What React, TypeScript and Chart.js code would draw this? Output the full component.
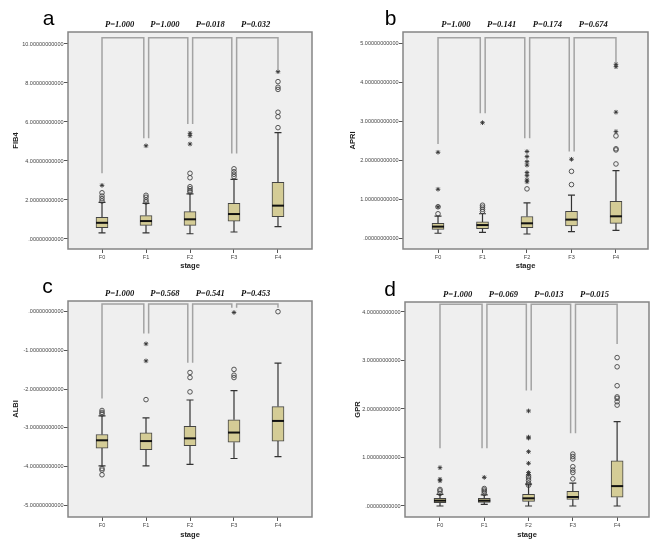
import React, { useEffect, useRef } from 'react';
import { Chart, registerables } from 'chart.js';

Chart.register(...registerables);

// ---------- shared ----------
const stages = ['F0', 'F1', 'F2', 'F3', 'F4'];

// ---------- a: FIB4 ----------
const fib4Low = [0.31, 0.31, 0.27, 0.36, 0.63];
const fib4Q1 = [0.58, 0.7, 0.7, 0.92, 1.14];
const fib4Median = [0.83, 0.92, 1.01, 1.28, 1.71];
const fib4Q3 = [1.11, 1.2, 1.4, 1.83, 2.91];
const fib4High = [1.88, 1.83, 2.31, 3.06, 5.45];
const fib4Circles = [[1.95, 2.07, 2.2, 2.37], [1.9, 2.0, 2.14, 2.24], [2.41, 2.48, 2.58, 2.68, 3.14, 3.37], [3.2, 3.32, 3.45, 3.6], [5.71, 6.27, 6.5, 7.67, 7.78, 8.07]];
const fib4Stars = [[2.75], [4.78], [4.87, 5.3, 5.42], [], [8.58]];
const fib4BracketTop = 10.32;
const fib4BracketLegs = [[3.37, 5.16], [5.16, 5.9], [5.9, 4.39], [4.39, 8.63]];
const fib4P = ['P=1.000', 'P=1.000', 'P=0.018', 'P=0.032'];
const fib4Ticks = [0, 2, 4, 6, 8, 10];
const fib4TickLabels = ['.00000000000', '2.00000000000', '4.00000000000', '6.00000000000', '8.00000000000', '10.00000000000'];

// ---------- b: APRI ----------
const apriLow = [0.13, 0.15, 0.11, 0.17, 0.205];
const apriQ1 = [0.23, 0.25, 0.27, 0.32, 0.385];
const apriMedian = [0.3, 0.34, 0.385, 0.48, 0.565];
const apriQ3 = [0.385, 0.42, 0.56, 0.69, 0.95];
const apriHigh = [0.57, 0.63, 0.91, 1.11, 1.74];
const apriCircles = [[0.63, 0.81], [0.69, 0.745, 0.8, 0.85], [1.27], [1.38, 1.72], [1.91, 2.27, 2.3, 2.63]];
const apriStars = [[0.81, 1.26, 2.21], [2.97], [1.45, 1.5, 1.61, 1.69, 1.88, 1.97, 2.1, 2.23], [2.03], [2.74, 3.24, 4.41, 4.47]];
const apriBracketTop = 5.15;
const apriBracketLegs = [[2.42, 3.21], [3.21, 2.57], [2.57, 2.23], [2.23, 4.5]];
const apriP = ['P=1.000', 'P=0.141', 'P=0.174', 'P=0.674'];
const apriTicks = [0, 1, 2, 3, 4, 5];
const apriTickLabels = ['.00000000000', '1.00000000000', '2.00000000000', '3.00000000000', '4.00000000000', '5.00000000000'];

// ---------- c: ALBI ----------
const albiLow = [-3.98, -3.98, -3.94, -3.79, -3.74];
const albiQ1 = [-3.52, -3.56, -3.46, -3.37, -3.34];
const albiMedian = [-3.32, -3.34, -3.27, -3.12, -2.82];
const albiQ3 = [-3.17, -3.13, -2.96, -2.79, -2.45];
const albiHigh = [-2.69, -2.74, -2.28, -2.04, -1.33];
const albiCircles = [[-2.55, -2.6, -2.64, -4.05, -4.09, -4.21], [-2.27], [-1.57, -1.7, -2.07], [-1.49, -1.64, -1.7], [0.0]];
const albiStars = [[], [-0.83, -1.27], [], [-0.02], []];
const albiBracketTop = 0.2;
const albiBracketLegs = [[-2.24, -0.56], [-0.56, -1.32], [-1.32, 0.1], [0.1, 0.1]];
const albiP = ['P=1.000', 'P=0.568', 'P=0.541', 'P=0.453'];
const albiTicks = [-5, -4, -3, -2, -1, 0];
const albiTickLabels = ['-5.00000000000', '-4.00000000000', '-3.00000000000', '-2.00000000000', '-1.00000000000', '.00000000000'];

// ---------- d: GPR ----------
const gprLow = [0.0, 0.034, 0.0, 0.0, 0.0];
const gprQ1 = [0.069, 0.075, 0.096, 0.137, 0.18];
const gprMedian = [0.11, 0.11, 0.158, 0.186, 0.41];
const gprQ3 = [0.158, 0.158, 0.24, 0.3, 0.93];
const gprHigh = [0.24, 0.23, 0.45, 0.47, 1.74];
const gprCircles = [[0.26, 0.31, 0.34], [0.26, 0.3, 0.33, 0.36], [0.43, 0.47, 0.53, 0.58, 0.62], [0.56, 0.69, 0.74, 0.81, 0.97, 1.02, 1.07], [2.08, 2.15, 2.22, 2.25, 2.48, 2.87, 3.06]];
const gprStars = [[0.52, 0.55, 0.79], [0.59], [0.65, 0.69, 0.88, 1.12, 1.4, 1.42, 1.96], [], []];
const gprBracketTop = 4.16;
const gprBracketLegs = [[1.19, 1.19], [1.19, 2.38], [2.38, 1.5], [1.5, 3.34]];
const gprP = ['P=1.000', 'P=0.069', 'P=0.013', 'P=0.015'];
const gprTicks = [0, 1, 2, 3, 4];
const gprTickLabels = ['.00000000000', '1.00000000000', '2.00000000000', '3.00000000000', '4.00000000000'];

type PanelDef = {
  letter: string; yTitle: string;
  low: number[]; q1: number[]; median: number[]; q3: number[]; high: number[];
  circles: number[][]; stars: number[][];
  bracketTop: number; bracketLegs: number[][]; pLabels: string[];
  ticks: number[]; tickLabels: string[];
  yMin: number; yMax: number; xMin: number; xMax: number;
  left: number; top: number; w: number; h: number;
  padTop: number; padRight: number; yWidth: number; xHeight: number;
  yTitleX: number; xTitleBottom: number; letterX: number; letterY: number;
};

const panels: PanelDef[] = [
  {
    letter: 'a', yTitle: 'FIB4', low: fib4Low, q1: fib4Q1, median: fib4Median, q3: fib4Q3, high: fib4High,
    circles: fib4Circles, stars: fib4Stars, bracketTop: fib4BracketTop, bracketLegs: fib4BracketLegs, pLabels: fib4P,
    ticks: fib4Ticks, tickLabels: fib4TickLabels, yMin: -0.513, yMax: 10.615, xMin: -0.773, xMax: 4.773,
    left: 0, top: 0, w: 334, h: 272, padTop: 32, padRight: 22, yWidth: 68, xHeight: 23,
    yTitleX: 15.5, xTitleBottom: 1.5, letterX: 48.5, letterY: 25,
  },
  {
    letter: 'b', yTitle: 'APRI', low: apriLow, q1: apriQ1, median: apriMedian, q3: apriQ3, high: apriHigh,
    circles: apriCircles, stars: apriStars, bracketTop: apriBracketTop, bracketLegs: apriBracketLegs, pLabels: apriP,
    ticks: apriTicks, tickLabels: apriTickLabels, yMin: -0.275, yMax: 5.3, xMin: -0.787, xMax: 4.72,
    left: 335, top: 0, w: 334, h: 272, padTop: 32, padRight: 21, yWidth: 68, xHeight: 23,
    yTitleX: 18, xTitleBottom: 1.5, letterX: 55.5, letterY: 25,
  },
  {
    letter: 'c', yTitle: 'ALBI', low: albiLow, q1: albiQ1, median: albiMedian, q3: albiQ3, high: albiHigh,
    circles: albiCircles, stars: albiStars, bracketTop: albiBracketTop, bracketLegs: albiBracketLegs, pLabels: albiP,
    ticks: albiTicks, tickLabels: albiTickLabels, yMin: -5.3, yMax: 0.276, xMin: -0.773, xMax: 4.773,
    left: 0, top: 270, w: 334, h: 275, padTop: 31, padRight: 22, yWidth: 68, xHeight: 28,
    yTitleX: 16.3, xTitleBottom: 5.5, letterX: 47.5, letterY: 23,
  },
  {
    letter: 'd', yTitle: 'GPR', low: gprLow, q1: gprQ1, median: gprMedian, q3: gprQ3, high: gprHigh,
    circles: gprCircles, stars: gprStars, bracketTop: gprBracketTop, bracketLegs: gprBracketLegs, pLabels: gprP,
    ticks: gprTicks, tickLabels: gprTickLabels, yMin: -0.227, yMax: 4.206, xMin: -0.79, xMax: 4.72,
    left: 335, top: 270, w: 334, h: 275, padTop: 32, padRight: 20, yWidth: 70, xHeight: 28,
    yTitleX: 23, xTitleBottom: 5.5, letterX: 55, letterY: 25.5,
  },
];

const SANS = '"Liberation Sans", Arial, sans-serif';
const SERIF = '"Liberation Serif", "Times New Roman", serif';

function makePlugin(p: PanelDef) {
  return {
    id: 'boxExtras',
    beforeDraw(chart: any) {
      const { ctx, chartArea: a } = chart;
      ctx.save();
      ctx.fillStyle = '#efefef';
      ctx.fillRect(a.left, a.top, a.right - a.left, a.bottom - a.top);
      ctx.restore();
    },
    afterDatasetsDraw(chart: any) {
      const { ctx } = chart;
      const xs = chart.scales.x;
      const ys = chart.scales.y;
      ctx.save();
      // whiskers
      ctx.strokeStyle = '#333';
      ctx.lineWidth = 1.2;
      for (let i = 0; i < stages.length; i++) {
        const x = xs.getPixelForValue(i);
        const yl = ys.getPixelForValue(p.low[i]);
        const yq1 = ys.getPixelForValue(p.q1[i]);
        const yq3 = ys.getPixelForValue(p.q3[i]);
        const yh = ys.getPixelForValue(p.high[i]);
        ctx.beginPath();
        ctx.moveTo(x, yq3); ctx.lineTo(x, yh);
        ctx.moveTo(x, yq1); ctx.lineTo(x, yl);
        ctx.moveTo(x - 3.5, yh); ctx.lineTo(x + 3.5, yh);
        ctx.moveTo(x - 3.5, yl); ctx.lineTo(x + 3.5, yl);
        ctx.stroke();
      }
      // medians
      ctx.strokeStyle = '#111';
      ctx.lineWidth = 2;
      for (let i = 0; i < stages.length; i++) {
        const x = xs.getPixelForValue(i);
        const ym = ys.getPixelForValue(p.median[i]);
        ctx.beginPath();
        ctx.moveTo(x - 6, ym); ctx.lineTo(x + 6, ym);
        ctx.stroke();
      }
      // brackets
      ctx.strokeStyle = '#a3a3a3';
      ctx.lineWidth = 1.5;
      const yt = ys.getPixelForValue(p.bracketTop);
      for (let k = 0; k < 4; k++) {
        const xl = xs.getPixelForValue(k + (k === 0 ? 0 : 0.06));
        const xr = xs.getPixelForValue(k + 1 - (k === 3 ? 0 : 0.05));
        ctx.beginPath();
        ctx.moveTo(xl, ys.getPixelForValue(p.bracketLegs[k][0]));
        ctx.lineTo(xl, yt);
        ctx.lineTo(xr, yt);
        ctx.lineTo(xr, ys.getPixelForValue(p.bracketLegs[k][1]));
        ctx.stroke();
      }
      ctx.restore();
    },
    afterDraw(chart: any) {
      const { ctx, chartArea: a } = chart;
      const xs = chart.scales.x;
      ctx.save();
      ctx.strokeStyle = '#858585';
      ctx.lineWidth = 1.5;
      ctx.strokeRect(a.left, a.top, a.right - a.left, a.bottom - a.top);
      // P labels
      ctx.fillStyle = '#111';
      ctx.font = 'bold italic 8.5px ' + SERIF;
      ctx.textAlign = 'center';
      ctx.textBaseline = 'middle';
      for (let k = 0; k < 4; k++) {
        ctx.fillText(p.pLabels[k], xs.getPixelForValue(k + 0.4 + 0.03 * k), a.top - 7.5);
      }
      // panel letter
      ctx.fillStyle = '#000';
      ctx.font = '21px ' + SANS;
      ctx.textBaseline = 'alphabetic';
      ctx.fillText(p.letter, p.letterX, p.letterY);
      ctx.restore();
    },
  };
}

function buildConfig(p: PanelDef): any {
  const boxData = stages.map((_, i) => ({ x: i, y: [p.q1[i], p.q3[i]] }));
  const circleData: any[] = [];
  const starData: any[] = [];
  p.circles.forEach((arr, i) => arr.forEach((v) => circleData.push({ x: i, y: v })));
  p.stars.forEach((arr, i) => arr.forEach((v) => starData.push({ x: i, y: v })));
  return {
    type: 'scatter',
    data: {
      datasets: [
        {
          type: 'scatter', data: circleData, pointStyle: 'circle', pointRadius: 2.3,
          pointBorderWidth: 0.9, borderColor: '#444', backgroundColor: 'rgba(0,0,0,0)',
          pointBackgroundColor: 'rgba(0,0,0,0)', pointBorderColor: '#444',
        },
        {
          type: 'scatter', data: starData, pointStyle: 'star', pointRadius: 2.3,
          pointBorderWidth: 0.9, borderColor: '#333', pointBorderColor: '#333', backgroundColor: '#333',
        },
        {
          type: 'bar', data: boxData, barThickness: 12, backgroundColor: '#d4cc96',
          borderColor: '#444', borderWidth: 1, borderSkipped: false, grouped: false,
        },
      ],
    },
    options: {
      animation: false,
      responsive: false,
      maintainAspectRatio: false,
      devicePixelRatio: 1,
      events: [],
      layout: { padding: { top: p.padTop, right: p.padRight, left: 0, bottom: 0 } },
      plugins: { legend: { display: false }, tooltip: { enabled: false } },
      scales: {
        x: {
          type: 'linear', min: p.xMin, max: p.xMax, offset: false,
          afterBuildTicks: (s: any) => { s.ticks = stages.map((_, i) => ({ value: i })); },
          afterFit: (s: any) => { s.height = p.xHeight; },
          ticks: {
            callback: (v: any) => stages[Math.round(v)] ?? '',
            font: { family: SANS, size: 5.5 }, color: '#444', padding: 1, maxRotation: 0, autoSkip: false,
          },
          grid: { display: true, offset: false, drawOnChartArea: false, drawTicks: true, tickLength: 4, color: '#555', lineWidth: 1 },
          border: { display: false },
          title: {
            display: true, text: 'stage', color: '#222',
            font: { family: SANS, size: 7.5, weight: 'bold' }, padding: { top: 0, bottom: p.xTitleBottom },
          },
        },
        y: {
          type: 'linear', min: p.yMin, max: p.yMax,
          afterBuildTicks: (s: any) => { s.ticks = p.ticks.map((v) => ({ value: v })); },
          afterFit: (s: any) => { s.width = p.yWidth; },
          ticks: {
            callback: (v: any) => { const i = p.ticks.indexOf(v); return i >= 0 ? p.tickLabels[i] : ''; },
            font: { family: SANS, size: 5.5 }, color: '#444', padding: 0.5, autoSkip: false,
          },
          grid: { display: true, offset: false, drawOnChartArea: false, drawTicks: true, tickLength: 4, color: '#555', lineWidth: 1 },
          border: { display: false },
          title: {
            display: true, text: p.yTitle, color: '#222',
            font: { family: SANS, size: 7.5, weight: 'bold' }, padding: { top: p.yTitleX - 4.5, bottom: 0 },
          },
        },
      },
    },
    plugins: [makePlugin(p)],
  };
}

function Panel({ p }: { p: PanelDef }) {
  const ref = useRef<HTMLCanvasElement | null>(null);
  useEffect(() => {
    if (!ref.current) return;
    const chart = new Chart(ref.current, buildConfig(p));
    return () => chart.destroy();
  }, [p]);
  return (
    <canvas
      ref={ref}
      width={p.w}
      height={p.h}
      style={{ position: 'absolute', left: p.left, top: p.top, width: p.w, height: p.h }}
    />
  );
}

export default function App() {
  return (
    <div style={{ position: 'absolute', left: 0, top: 0, width: 669, height: 545, background: '#fff', overflow: 'hidden' }}>
      {panels.map((p) => (
        <Panel key={p.letter} p={p} />
      ))}
    </div>
  );
}
